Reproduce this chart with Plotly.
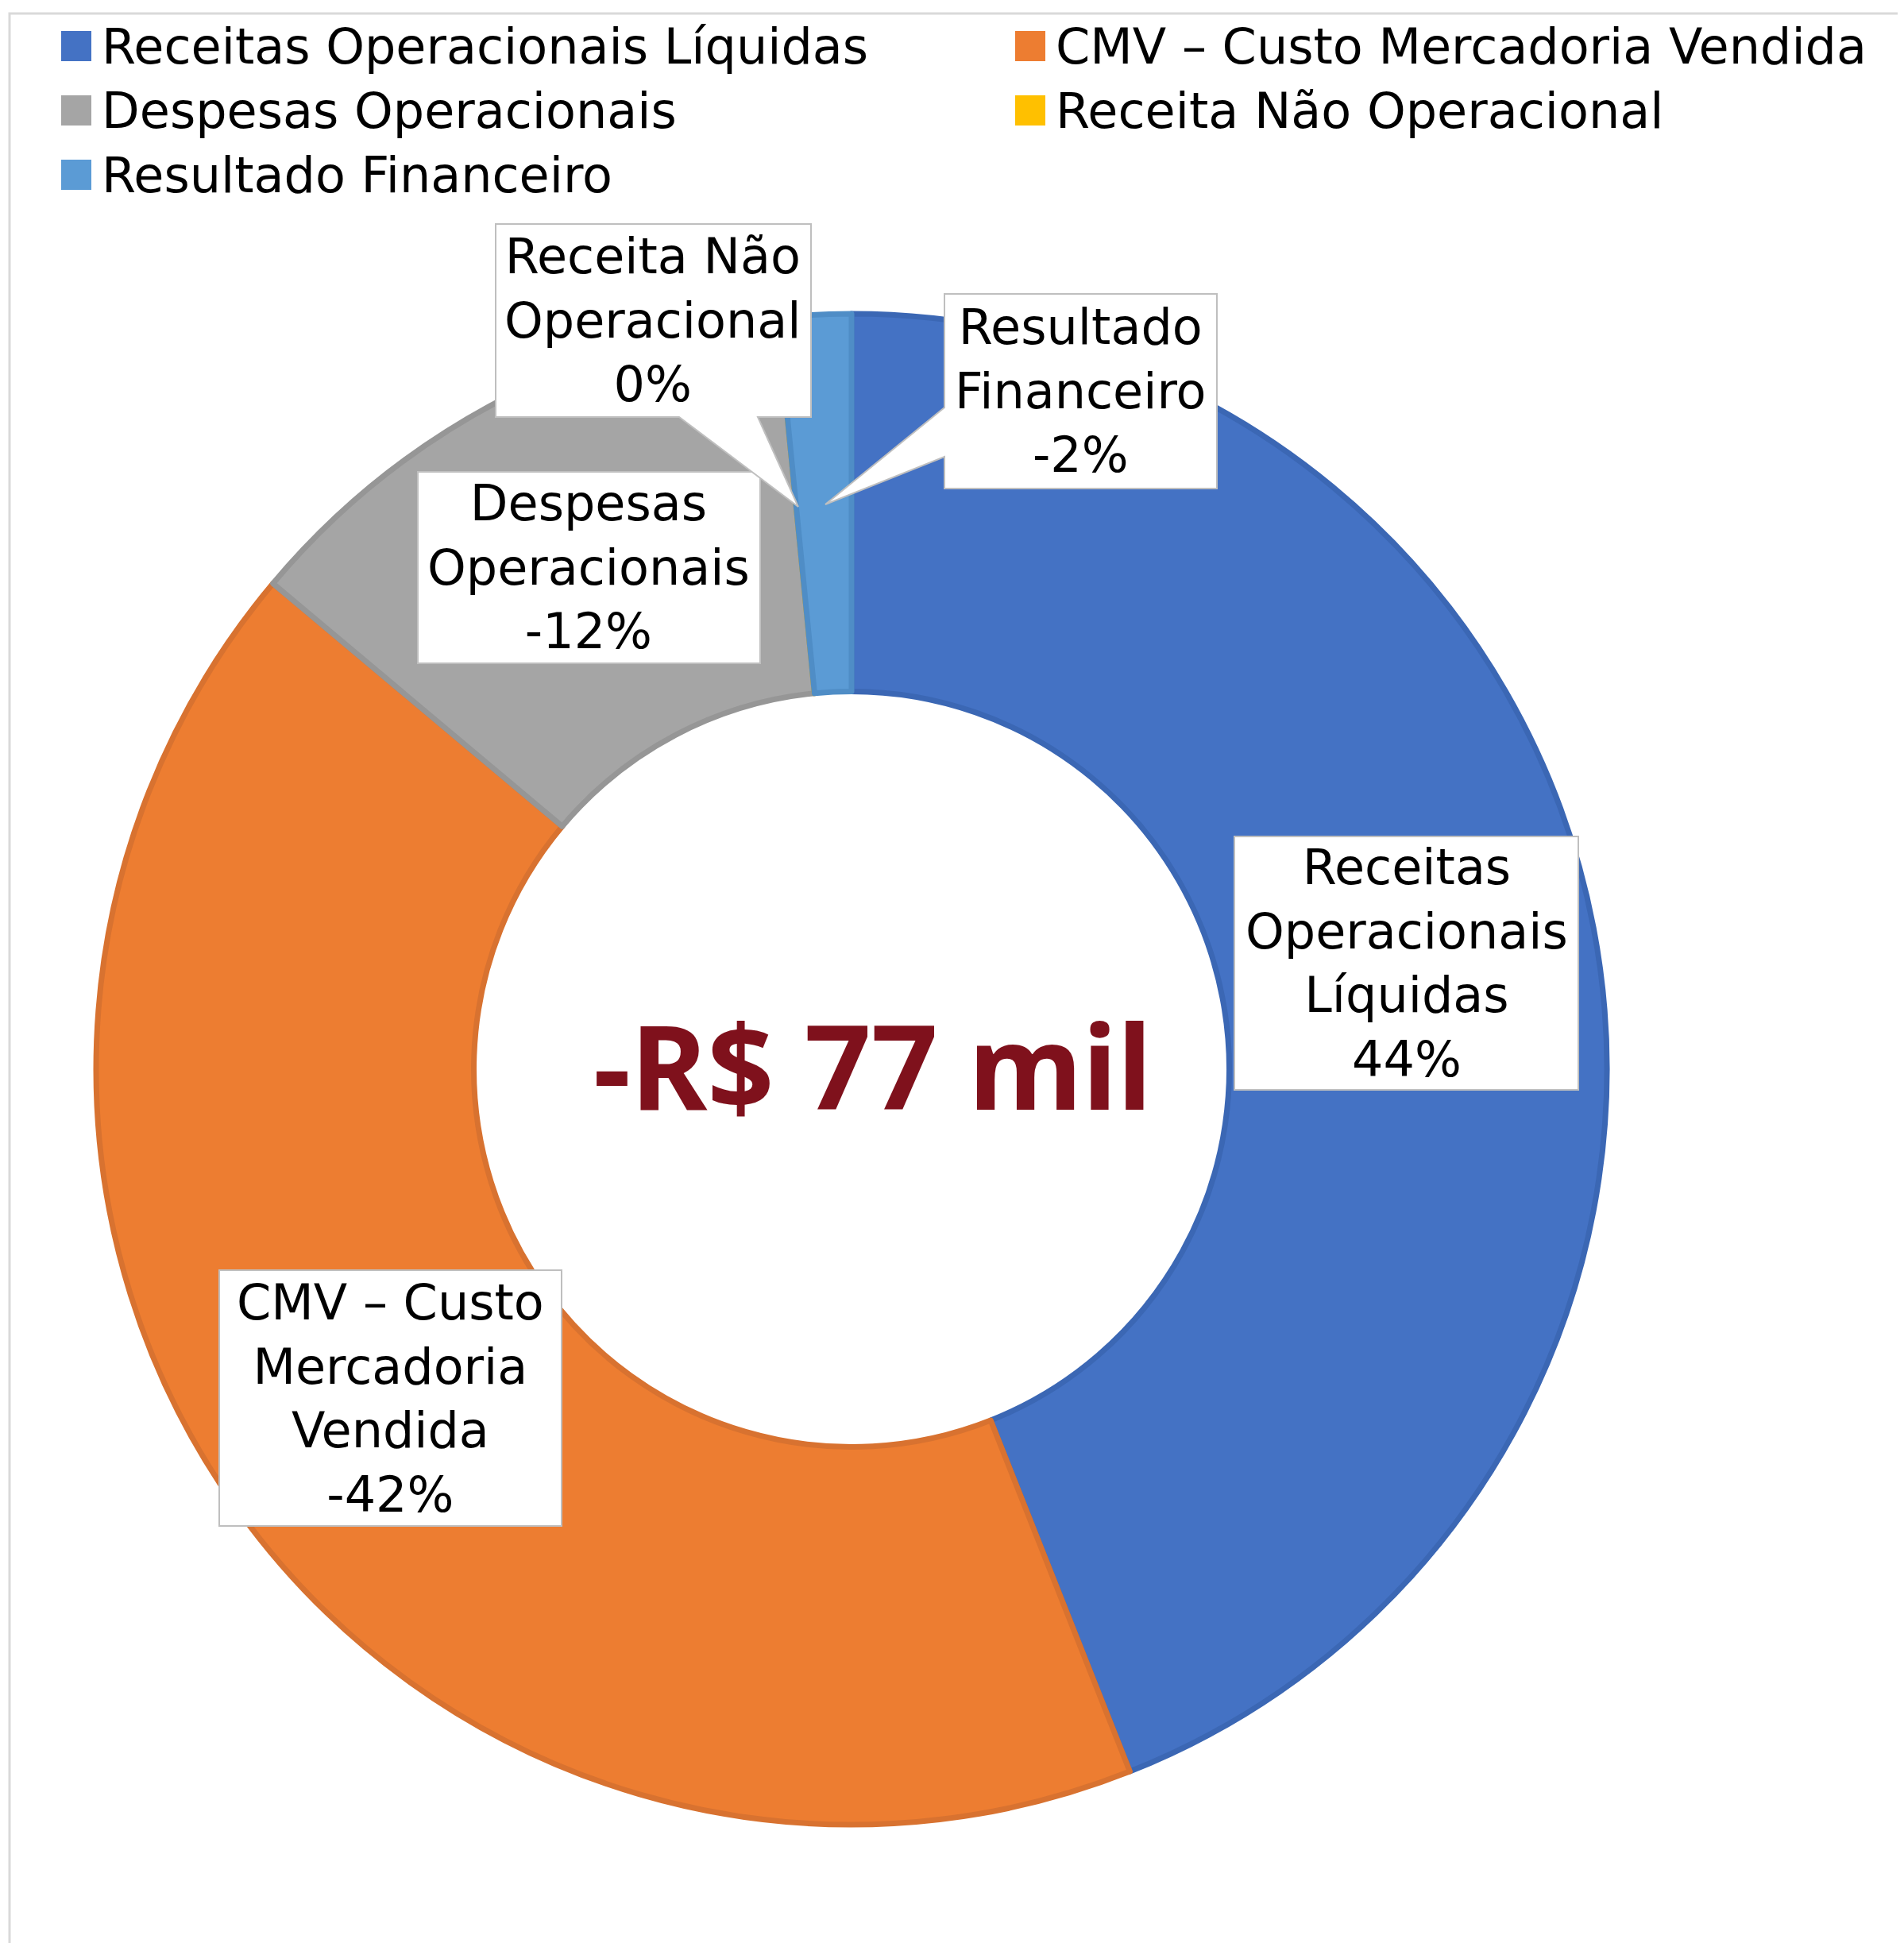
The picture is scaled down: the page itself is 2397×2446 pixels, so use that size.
import plotly.graph_objects as go

W, H = 2397, 2446
OFF = 8  # default page margin of the html body

# values in R$ mil
categories = ["Receitas Operacionais Líquidas", "CMV – Custo Mercadoria Vendida",
              "Despesas Operacionais", "Receita Não Operacional", "Resultado Financeiro"]
box_text = ["Receitas<br>Operacionais<br>Líquidas", "CMV – Custo<br>Mercadoria<br>Vendida",
            "Despesas<br>Operacionais", "Receita Não<br>Operacional", "Resultado<br>Financeiro"]
values = [282, -270, -79, 0, -10]
colors = ["#4472C4", "#ED7D31", "#A5A5A5", "#FFC000", "#5B9BD5"]
edge_colors = ["#3B67B4", "#D87230", "#969696", "#E6AD00", "#4F8DC6"]

FONT = "DejaVu Sans"


def px(x, y):
    return (x - OFF) / W, 1 - (y - OFF) / H


total_abs = sum(abs(v) for v in values)
pcts = [round(v / total_abs * 100) for v in values]
net = sum(values)

cx0, cy0, R = 1072, 1346, 951
dx0, dy1 = px(cx0 - R, cy0 - R)
dx1, dy0 = px(cx0 + R, cy0 + R)

fig = go.Figure(go.Pie(
    labels=categories,
    values=[abs(v) for v in values],
    hole=0.5,
    sort=False,
    direction="clockwise",
    rotation=0,
    textinfo="none",
    marker=dict(colors=colors, line=dict(color=edge_colors, width=7)),
    domain=dict(x=[dx0, dx1], y=[dy0, dy1]),
    showlegend=False,
))

shapes = []
annotations = []

# outer frame (only top/left edges visible in the reference)
x0, y0 = px(12, 17)
shapes.append(dict(type="rect", xref="paper", yref="paper", x0=x0, y0=-0.05, x1=1.05, y1=y0,
                   line=dict(color="#D9D9D9", width=3), fillcolor="rgba(0,0,0,0)", layer="below"))

# legend (manual, big square symbols)
leg_rows = [58, 139, 220]
leg_cols = [77, 1278]
for i, (name, c) in enumerate(zip(categories, colors)):
    r, k = i // 2, i % 2
    xa, ya = px(leg_cols[k], leg_rows[r] - 19)
    xb, yb = px(leg_cols[k] + 38, leg_rows[r] + 19)
    shapes.append(dict(type="rect", xref="paper", yref="paper", x0=xa, x1=xb, y0=yb, y1=ya,
                       fillcolor=c, line=dict(width=0)))
    tx, ty = px(leg_cols[k] + 49, leg_rows[r])
    annotations.append(dict(text=name, x=tx, y=ty, xref="paper", yref="paper",
                            xanchor="left", yanchor="middle", showarrow=False,
                            font=dict(family=FONT, size=62, color="black")))

# data label callout boxes: outline points in px
boxes = [
    [(1554, 1053), (1987, 1053), (1987, 1372), (1554, 1372)],
    [(276, 1599), (707, 1599), (707, 1921), (276, 1921)],
    [(526, 594), (957, 594), (957, 835), (526, 835)],
    [(624, 282), (1021, 282), (1021, 525), (954, 525), (1005, 638), (855, 525), (624, 525)],
    [(1189, 370), (1532, 370), (1532, 615), (1189, 615), (1189, 575), (1039, 635), (1189, 513)],
]
centers = [(1771, 1212), (491, 1760), (741, 714), (822, 403), (1360, 492)]

for pts, (cx, cy), txt, p in zip(boxes, centers, box_text, pcts):
    path = "M " + " L ".join("%.5f,%.5f" % px(x, y) for x, y in pts) + " Z"
    shapes.append(dict(type="path", xref="paper", yref="paper", path=path,
                       fillcolor="white", line=dict(color="#BFBFBF", width=2)))
    ax, ay = px(cx, cy)
    annotations.append(dict(text="%s<br>%d%%" % (txt, p), x=ax, y=ay, xref="paper", yref="paper",
                            xanchor="center", yanchor="middle", showarrow=False, align="center",
                            font=dict(family=FONT, size=62, color="black")))

# total in the hole
cx, cy = px(1098, 1340)
sign = "-" if net < 0 else ""
annotations.append(dict(text="<b>%sR$ %d mil</b>" % (sign, abs(net)), x=cx, y=cy,
                        xref="paper", yref="paper", xanchor="center", yanchor="middle",
                        showarrow=False, font=dict(family="Noto Sans", size=147, color="#7F111C")))

fig.update_layout(
    width=W, height=H, autosize=False,
    margin=dict(l=0, r=0, t=0, b=0),
    paper_bgcolor="white", plot_bgcolor="white",
    shapes=shapes, annotations=annotations,
)

fig.write_html("out.html")
